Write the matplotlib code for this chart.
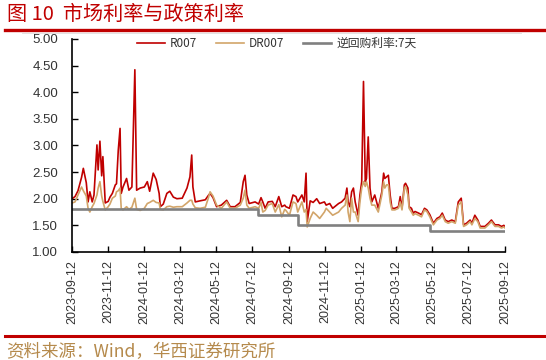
import matplotlib
matplotlib.use("Agg")
import matplotlib.pyplot as plt
import matplotlib.dates as mdates
from matplotlib.lines import Line2D
import pandas as pd

plt.rcParams['font.family'] = ['Noto Sans CJK SC', 'DejaVu Sans']

dates = [
    "2023-09-12", "2023-09-17", "2023-09-22", "2023-09-28", "2023-10-01", "2023-10-06", "2023-10-09", "2023-10-12", "2023-10-16", "2023-10-19",
    "2023-10-24", "2023-10-26", "2023-10-29", "2023-11-01", "2023-11-03", "2023-11-07", "2023-11-12", "2023-11-15", "2023-11-19", "2023-11-24",
    "2023-11-26", "2023-11-29", "2023-12-02", "2023-12-04", "2023-12-07", "2023-12-13", "2023-12-17", "2023-12-22", "2023-12-27", "2023-12-30",
    "2024-01-05", "2024-01-12", "2024-01-17", "2024-01-21", "2024-01-27", "2024-02-01", "2024-02-06", "2024-02-08", "2024-02-13", "2024-02-19",
    "2024-02-24", "2024-03-01", "2024-03-07", "2024-03-16", "2024-03-24", "2024-03-29", "2024-04-01", "2024-04-03", "2024-04-07", "2024-04-15",
    "2024-04-24", "2024-04-29", "2024-05-02", "2024-05-07", "2024-05-13", "2024-05-21", "2024-05-30", "2024-06-05", "2024-06-13", "2024-06-22",
    "2024-06-27", "2024-06-30", "2024-07-03", "2024-07-07", "2024-07-17", "2024-07-23", "2024-07-27", "2024-07-30", "2024-08-03", "2024-08-08",
    "2024-08-15", "2024-08-20", "2024-08-26", "2024-08-31", "2024-09-05", "2024-09-07", "2024-09-13", "2024-09-19", "2024-09-24", "2024-09-27",
    "2024-10-04", "2024-10-08", "2024-10-11", "2024-10-13", "2024-10-18", "2024-10-23", "2024-10-29", "2024-11-03", "2024-11-11", "2024-11-14",
    "2024-11-20", "2024-11-25", "2024-12-05", "2024-12-10", "2024-12-16", "2024-12-19", "2024-12-21", "2024-12-24", "2024-12-27", "2024-12-30",
    "2025-01-02", "2025-01-07", "2025-01-10", "2025-01-13", "2025-01-16", "2025-01-19", "2025-01-21", "2025-01-24", "2025-01-27", "2025-01-30",
    "2025-02-04", "2025-02-10", "2025-02-16", "2025-02-19", "2025-02-21", "2025-02-24", "2025-02-27", "2025-03-02", "2025-03-05", "2025-03-10",
    "2025-03-16", "2025-03-19", "2025-03-22", "2025-03-26", "2025-03-28", "2025-04-01", "2025-04-03", "2025-04-07", "2025-04-10", "2025-04-13",
    "2025-04-19", "2025-04-24", "2025-04-29", "2025-05-03", "2025-05-08", "2025-05-14", "2025-05-20", "2025-05-25", "2025-05-29", "2025-06-03",
    "2025-06-08", "2025-06-14", "2025-06-20", "2025-06-25", "2025-06-30", "2025-07-04", "2025-07-09", "2025-07-15", "2025-07-18", "2025-07-23",
    "2025-07-28", "2025-08-01", "2025-08-09", "2025-08-15", "2025-08-20", "2025-08-26", "2025-09-01", "2025-09-06", "2025-09-10", "2025-09-12",
]

r007 = [
    2.00, 2.04, 2.15, 2.40, 2.57, 2.30, 1.94, 2.13, 1.94, 2.07,
    3.01, 2.54, 3.08, 2.43, 2.79, 1.92, 1.95, 2.03, 2.10, 2.26,
    2.28, 2.91, 3.32, 2.10, 2.22, 2.38, 2.16, 2.22, 4.42, 2.16,
    2.20, 2.22, 2.32, 2.14, 2.48, 2.36, 2.10, 1.85, 1.90, 2.10,
    2.14, 2.03, 2.00, 2.01, 2.20, 2.41, 2.82, 2.22, 1.94, 1.96,
    1.98, 2.06, 2.10, 2.02, 1.85, 1.88, 1.97, 1.85, 1.85, 1.93,
    2.32, 2.44, 2.07, 1.91, 1.94, 1.90, 2.02, 1.94, 1.82, 1.94,
    1.95, 1.85, 2.04, 1.85, 1.88, 1.85, 1.82, 2.07, 2.04, 1.94,
    2.07, 1.94, 2.48, 1.57, 1.96, 1.93, 2.00, 1.91, 1.94, 1.88,
    1.91, 1.82, 1.91, 1.94, 2.01, 2.20, 1.94, 1.85, 2.13, 2.20,
    1.94, 1.69, 2.07, 2.32, 4.20, 2.32, 2.38, 3.16, 2.20, 1.94,
    2.07, 1.82, 2.13, 2.48, 2.38, 2.41, 2.44, 2.07, 1.82, 1.82,
    1.85, 2.04, 1.82, 2.26, 2.29, 2.20, 1.85, 1.82, 1.73, 1.76,
    1.73, 1.70, 1.82, 1.79, 1.70, 1.54, 1.63, 1.66, 1.73, 1.60,
    1.57, 1.60, 1.57, 1.94, 2.01, 1.51, 1.54, 1.60, 1.54, 1.69,
    1.60, 1.48, 1.48, 1.54, 1.60, 1.51, 1.51, 1.48, 1.50, 1.47,
]

dr007 = [
    1.92, 1.94, 2.07, 2.22, 2.15, 2.05, 1.82, 1.75, 1.85, 1.91,
    2.07, 2.20, 2.32, 2.05, 1.95, 1.79, 1.85, 1.90, 2.01, 2.05,
    2.13, 2.15, 2.20, 1.82, 1.79, 1.85, 1.80, 1.84, 2.01, 1.80,
    1.78, 1.82, 1.91, 1.93, 1.97, 1.93, 1.92, 1.80, 1.79, 1.85,
    1.86, 1.84, 1.85, 1.85, 1.92, 1.97, 1.97, 1.90, 1.83, 1.82,
    1.84, 2.01, 2.13, 2.05, 1.88, 1.82, 1.94, 1.82, 1.82, 1.88,
    2.01, 2.16, 1.88, 1.82, 1.85, 1.82, 1.93, 1.75, 1.78, 1.88,
    1.91, 1.75, 1.89, 1.66, 1.80, 1.78, 1.69, 1.94, 1.91, 1.75,
    1.94, 1.75, 1.80, 1.47, 1.63, 1.75, 1.69, 1.63, 1.75, 1.82,
    1.75, 1.69, 1.75, 1.82, 1.88, 2.07, 1.75, 1.57, 2.01, 1.75,
    1.75, 1.57, 1.94, 2.20, 2.32, 2.23, 2.32, 2.20, 2.01, 1.88,
    1.88, 1.75, 2.07, 2.32, 2.20, 2.26, 2.26, 1.94, 1.79, 1.79,
    1.82, 1.94, 1.79, 2.20, 2.23, 2.07, 1.82, 1.75, 1.69, 1.72,
    1.69, 1.66, 1.79, 1.76, 1.66, 1.51, 1.60, 1.63, 1.69, 1.57,
    1.54, 1.57, 1.54, 1.88, 1.94, 1.48, 1.51, 1.57, 1.51, 1.63,
    1.57, 1.45, 1.45, 1.51, 1.57, 1.48, 1.48, 1.45, 1.47, 1.45,
]

# 逆回购利率:7天 (steps)
policy_dates = ["2023-09-12", "2024-07-22", "2024-09-27", "2025-05-08", "2025-09-12"]
policy_rate = [1.80, 1.70, 1.50, 1.40, 1.40]

tick_dates = ["2023-09-12", "2023-11-12", "2024-01-12", "2024-03-12", "2024-05-12",
              "2024-07-12", "2024-09-12", "2024-11-12", "2025-01-12", "2025-03-12",
              "2025-05-12", "2025-07-12", "2025-09-12"]

red = '#C00000'
tan = '#D2A56A'
grey = '#808080'

fig = plt.figure(figsize=(5.46, 3.6), dpi=100)
ax = fig.add_axes([0.132, 0.30, 0.793, 0.592])

x = pd.to_datetime(dates)
ax.plot(x, r007, color=red, lw=1.2, label='R007')
ax.plot(x, dr007, color=tan, lw=1.2, label='DR007')
ax.plot(pd.to_datetime(policy_dates), policy_rate, color=grey, lw=1.9,
        drawstyle='steps-post', label='逆回购利率:7天')

ax.set_ylim(1.0, 5.0)
ax.set_yticks([1.0, 1.5, 2.0, 2.5, 3.0, 3.5, 4.0, 4.5, 5.0])
ax.yaxis.set_major_formatter(matplotlib.ticker.FormatStrFormatter('%.2f'))
ax.set_xlim(pd.Timestamp(tick_dates[0]), pd.Timestamp(tick_dates[-1]))
ax.set_xticks(pd.to_datetime(tick_dates))
ax.xaxis.set_major_formatter(mdates.DateFormatter('%Y-%m-%d'))

for lab in ax.get_xticklabels():
    lab.set_rotation(90)
    lab.set_fontfamily('Liberation Sans')
    lab.set_fontsize(9)
for lab in ax.get_yticklabels():
    lab.set_fontfamily('Liberation Sans')
    lab.set_fontsize(9.5)

ax.tick_params(axis='both', direction='in', length=4, width=1, colors='black', pad=6)
ax.tick_params(axis='y', pad=10)
for lab in ax.get_xticklabels() + ax.get_yticklabels():
    lab.set_color('#333333')
ax.spines['top'].set_visible(False)
ax.spines['right'].set_visible(False)
ax.spines['left'].set_linewidth(1.2)
ax.spines['bottom'].set_linewidth(1.2)

leg = ax.legend(loc='upper center', bbox_to_anchor=(0.472, 1.06), ncol=3, frameon=False,
                fontsize=8.5, handlelength=2.4, columnspacing=1.6, handletextpad=0.4)
for t in leg.get_texts():
    t.set_color('#333333')

# header and footer
fig.text(0.012, 0.961, '图 10  市场利率与政策利率', color=red, fontsize=14.5,
         ha='left', va='center')
fig.add_artist(Line2D([0.01, 1.0], [0.917, 0.917], color=red, lw=2.4))
fig.add_artist(Line2D([0.04, 0.955], [0.908, 0.908], color='#DDDDDD', lw=0.6))
fig.add_artist(Line2D([0.01, 1.0], [0.067, 0.067], color=red, lw=2.2))
fig.text(0.012, 0.022, '资料来源：Wind，华西证券研究所', color='#B58A4C', fontsize=12.6,
         ha='left', va='center')

fig.savefig('out.png', dpi=100)
